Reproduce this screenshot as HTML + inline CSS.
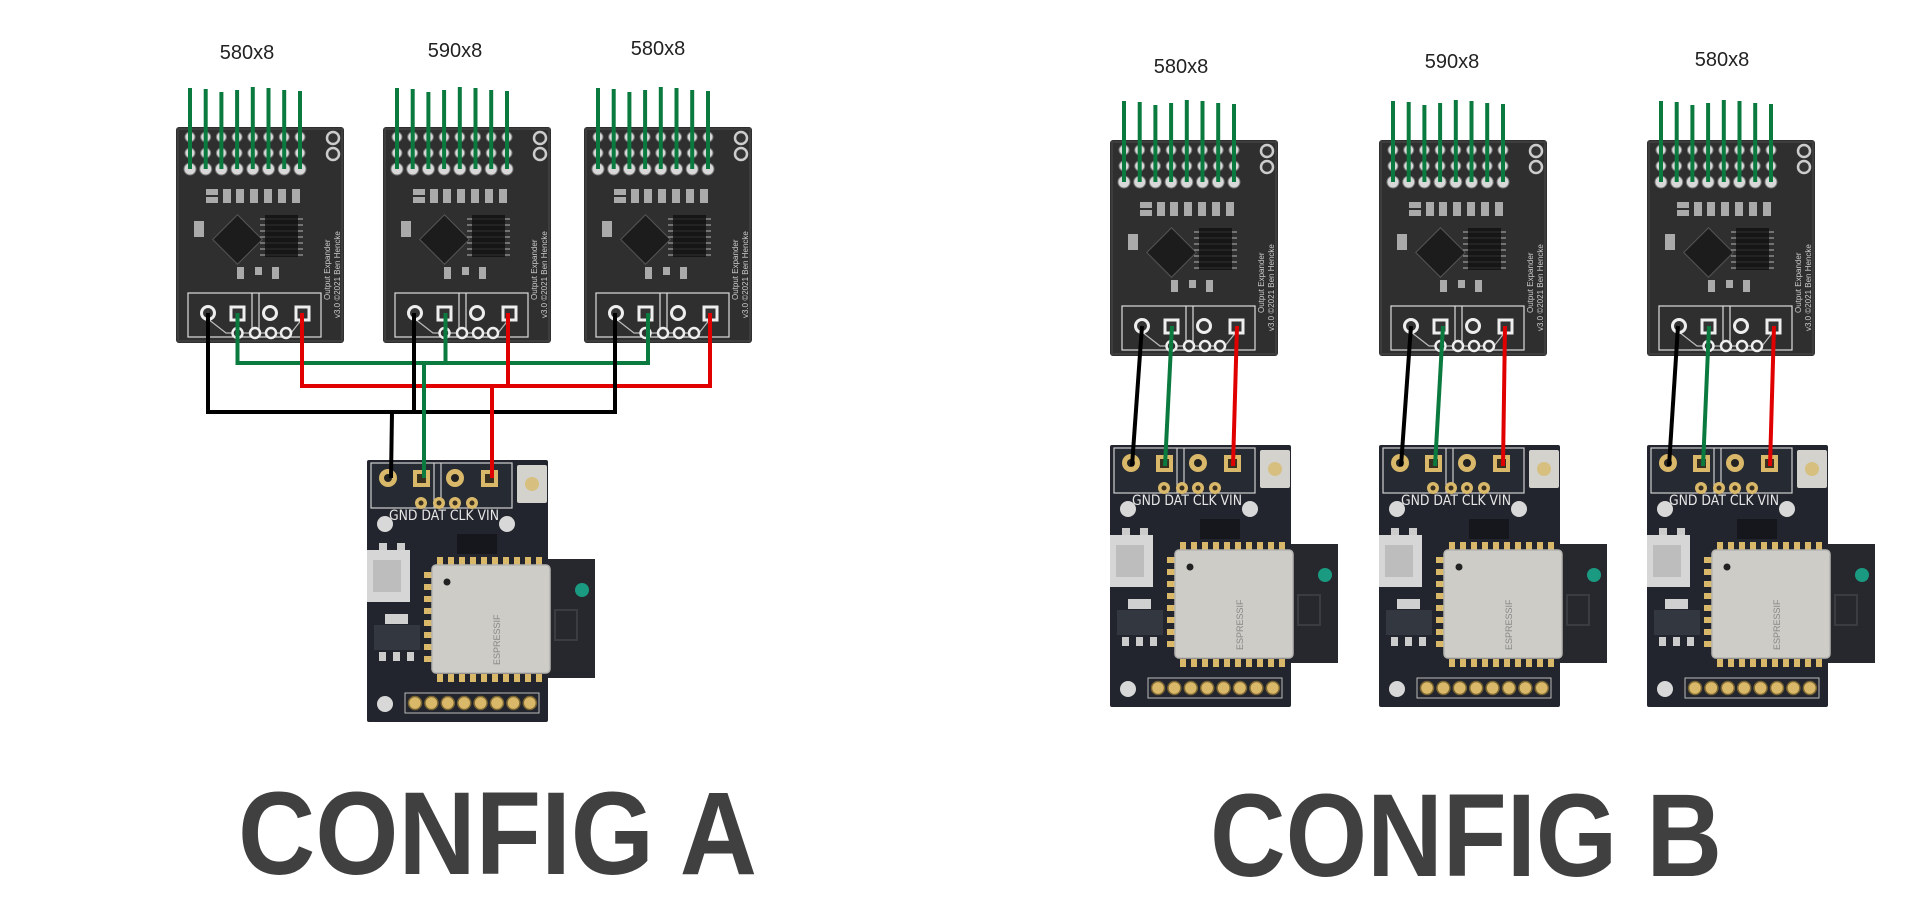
<!DOCTYPE html>
<html><head><meta charset="utf-8"><style>
html,body{margin:0;padding:0;background:#fff;}
svg{display:block;}
</style></head><body>
<svg width="1920" height="923" viewBox="0 0 1920 923" xmlns="http://www.w3.org/2000/svg" font-family="Liberation Sans, sans-serif">
<defs>
<g id="exp">
  <rect x="0" y="0" width="168" height="216" rx="3" fill="#2f2f30"/>
  <rect x="2" y="2" width="164" height="212" fill="none" stroke="#3d3d3e" stroke-width="2"/>
  <g fill="#d8d8d8" stroke="#777" stroke-width="1">
    <circle cx="14" cy="10" r="5"/><circle cx="29.7" cy="10" r="5"/><circle cx="45.4" cy="10" r="5"/><circle cx="61.1" cy="10" r="5"/><circle cx="76.8" cy="10" r="5"/><circle cx="92.5" cy="10" r="5"/><circle cx="108.2" cy="10" r="5"/><circle cx="124" cy="10" r="5"/>
    <circle cx="14" cy="26" r="5"/><circle cx="29.7" cy="26" r="5"/><circle cx="45.4" cy="26" r="5"/><circle cx="61.1" cy="26" r="5"/><circle cx="76.8" cy="26" r="5"/><circle cx="92.5" cy="26" r="5"/><circle cx="108.2" cy="26" r="5"/><circle cx="124" cy="26" r="5"/>
    <circle cx="14" cy="42" r="6"/><circle cx="29.7" cy="42" r="6"/><circle cx="45.4" cy="42" r="6"/><circle cx="61.1" cy="42" r="6"/><circle cx="76.8" cy="42" r="6"/><circle cx="92.5" cy="42" r="6"/><circle cx="108.2" cy="42" r="6"/><circle cx="124" cy="42" r="6"/>
  </g>
  <circle cx="157" cy="11" r="6" fill="#333" stroke="#ccc" stroke-width="2.5"/>
  <circle cx="157" cy="27" r="6" fill="#333" stroke="#ccc" stroke-width="2.5"/>
  <g fill="#aaa">
    <rect x="30" y="62" width="12" height="6"/><rect x="47" y="62" width="8" height="14"/><rect x="60" y="62" width="8" height="14"/><rect x="74" y="62" width="8" height="14"/><rect x="88" y="62" width="8" height="14"/><rect x="102" y="62" width="8" height="14"/><rect x="116" y="62" width="8" height="14"/><rect x="30" y="70" width="12" height="6"/>
    <rect x="18" y="94" width="10" height="16"/><rect x="22" y="168" width="0" height="0"/>
    <rect x="61" y="140" width="7" height="12"/><rect x="96" y="140" width="7" height="12"/><rect x="79" y="140" width="7" height="8"/>
  </g>
  <rect x="44" y="95" width="35" height="35" fill="#1c1c1c" stroke="#555" transform="rotate(45 61.5 112.5)"/>
  <rect x="89" y="88" width="33" height="42" fill="#161616"/>
  <g stroke="#888" stroke-width="1.5">
    <line x1="84" y1="92" x2="127" y2="92"/><line x1="84" y1="98" x2="127" y2="98"/><line x1="84" y1="104" x2="127" y2="104"/><line x1="84" y1="110" x2="127" y2="110"/><line x1="84" y1="116" x2="127" y2="116"/><line x1="84" y1="122" x2="127" y2="122"/><line x1="84" y1="128" x2="127" y2="128"/>
  </g>
  <rect x="89" y="88" width="33" height="42" fill="#161616" opacity="0.85"/>
  <rect x="12" y="166" width="133" height="44" fill="none" stroke="#ddd" stroke-width="1.2"/>
  <line x1="76" y1="166" x2="76" y2="210" stroke="#ddd" stroke-width="1.2"/>
  <line x1="83" y1="166" x2="83" y2="210" stroke="#ddd" stroke-width="1.2"/>
  <polyline points="32,192 50,206 115,206 126,192" fill="none" stroke="#bbb" stroke-width="1.2"/>
  <circle cx="32" cy="186" r="6.5" fill="#333" stroke="#eee" stroke-width="3"/>
  <rect x="55" y="180" width="13" height="13" fill="#333" stroke="#eee" stroke-width="3"/>
  <circle cx="94" cy="186" r="6.5" fill="#333" stroke="#eee" stroke-width="3"/>
  <rect x="120" y="180" width="13" height="13" fill="#333" stroke="#eee" stroke-width="3"/>
  <g fill="#333" stroke="#eee" stroke-width="2.5">
    <circle cx="61.5" cy="206" r="5"/><circle cx="79" cy="206" r="5"/><circle cx="95" cy="206" r="5"/><circle cx="110" cy="206" r="5"/>
  </g>
  <g stroke="#0b7a3f" stroke-width="4">
    <line x1="14" y1="-39" x2="14" y2="42"/><line x1="29.7" y1="-38" x2="29.7" y2="42"/><line x1="45.4" y1="-35" x2="45.4" y2="42"/><line x1="61.1" y1="-37" x2="61.1" y2="42"/><line x1="76.8" y1="-40" x2="76.8" y2="42"/><line x1="92.5" y1="-39" x2="92.5" y2="42"/><line x1="108.2" y1="-37" x2="108.2" y2="42"/><line x1="124" y1="-36" x2="124" y2="42"/>
  </g>
</g>
<g id="esp">
  <rect x="181" y="99" width="47" height="119" fill="#26282d"/>
  <rect x="188" y="150" width="22" height="30" fill="none" stroke="#3a3c42" stroke-width="2"/>
  <circle cx="215" cy="130" r="7" fill="#1a9a80"/>
  <rect x="0" y="0" width="181" height="262" rx="2" fill="#22252d"/>
  <rect x="4" y="3" width="141" height="45" fill="#262a33" stroke="#cfcfcf" stroke-width="1.2"/>
  <line x1="67" y1="3" x2="67" y2="48" stroke="#cfcfcf" stroke-width="1.2"/>
  <line x1="74" y1="3" x2="74" y2="48" stroke="#cfcfcf" stroke-width="1.2"/>
  <circle cx="21" cy="18" r="9" fill="#d9b86a"/><circle cx="21" cy="18" r="4" fill="#222"/>
  <rect x="46" y="10" width="17" height="17" fill="#d9b86a"/><rect x="50" y="14" width="9" height="9" fill="#3a3020"/>
  <circle cx="88" cy="18" r="9" fill="#d9b86a"/><circle cx="88" cy="18" r="4" fill="#222"/>
  <rect x="114" y="10" width="17" height="17" fill="#d9b86a"/><rect x="118" y="14" width="9" height="9" fill="#3a3020"/>
  <g fill="#d9b86a"><circle cx="54" cy="43" r="6"/><circle cx="72" cy="43" r="6"/><circle cx="88" cy="43" r="6"/><circle cx="105" cy="43" r="6"/></g>
  <g fill="#3a3020"><circle cx="54" cy="43" r="2.5"/><circle cx="72" cy="43" r="2.5"/><circle cx="88" cy="43" r="2.5"/><circle cx="105" cy="43" r="2.5"/></g>
  <rect x="150" y="5" width="30" height="38" rx="2" fill="#d4d2cd"/>
  <circle cx="165" cy="24" r="7" fill="#d7bf80"/>
  <circle cx="18" cy="64" r="8" fill="#d8d8d8"/><circle cx="140" cy="64" r="8" fill="#d8d8d8"/><circle cx="18" cy="244" r="8" fill="#d8d8d8"/>
  <rect x="0" y="90" width="43" height="52" fill="#d6d6d6"/>
  <rect x="6" y="100" width="28" height="32" fill="#bdbdbd"/>
  <rect x="12" y="83" width="8" height="7" fill="#ccc"/><rect x="30" y="83" width="8" height="7" fill="#ccc"/>
  <rect x="18" y="154" width="23" height="10" fill="#d0d0d0"/>
  <rect x="7" y="165" width="46" height="25" fill="#333740"/>
  <g fill="#ccc"><rect x="12" y="192" width="7" height="9"/><rect x="26" y="192" width="7" height="9"/><rect x="40" y="192" width="7" height="9"/></g>
  <rect x="90" y="74" width="40" height="20" fill="#15171c"/>
  <g fill="#d9b86a">
    <rect x="70" y="97" width="6" height="8"/><rect x="81" y="97" width="6" height="8"/><rect x="92" y="97" width="6" height="8"/><rect x="103" y="97" width="6" height="8"/><rect x="114" y="97" width="6" height="8"/><rect x="125" y="97" width="6" height="8"/><rect x="136" y="97" width="6" height="8"/><rect x="147" y="97" width="6" height="8"/><rect x="158" y="97" width="6" height="8"/><rect x="169" y="97" width="6" height="8"/>
    <rect x="70" y="214" width="6" height="8"/><rect x="81" y="214" width="6" height="8"/><rect x="92" y="214" width="6" height="8"/><rect x="103" y="214" width="6" height="8"/><rect x="114" y="214" width="6" height="8"/><rect x="125" y="214" width="6" height="8"/><rect x="136" y="214" width="6" height="8"/><rect x="147" y="214" width="6" height="8"/><rect x="158" y="214" width="6" height="8"/><rect x="169" y="214" width="6" height="8"/>
    <rect x="57" y="112" width="8" height="6"/><rect x="57" y="124" width="8" height="6"/><rect x="57" y="136" width="8" height="6"/><rect x="57" y="148" width="8" height="6"/><rect x="57" y="160" width="8" height="6"/><rect x="57" y="172" width="8" height="6"/><rect x="57" y="184" width="8" height="6"/><rect x="57" y="196" width="8" height="6"/>
  </g>
  <rect x="65" y="105" width="118" height="108" rx="4" fill="#cdccc7" stroke="#b5b4b0" stroke-width="1.5"/>
  <circle cx="80" cy="122" r="3.5" fill="#222"/>
  <g fill="#d9b86a" stroke="#7a6530" stroke-width="1.5">
    <circle cx="48" cy="243" r="6.5"/><circle cx="64.4" cy="243" r="6.5"/><circle cx="80.8" cy="243" r="6.5"/><circle cx="97.2" cy="243" r="6.5"/><circle cx="113.6" cy="243" r="6.5"/><circle cx="130" cy="243" r="6.5"/><circle cx="146.4" cy="243" r="6.5"/><circle cx="162.8" cy="243" r="6.5"/>
  </g>
  <rect x="38" y="233" width="134" height="20" fill="none" stroke="#bbb" stroke-width="1"/>
</g>
</defs>

<!-- labels -->
<g font-size="20" fill="#222" text-anchor="middle">
  <text x="247" y="59">580x8</text>
  <text x="455" y="57">590x8</text>
  <text x="658" y="55">580x8</text>
  <text x="1181" y="73">580x8</text>
  <text x="1452" y="68">590x8</text>
  <text x="1722" y="66">580x8</text>
</g>

<!-- Config A boards -->
<use href="#exp" x="176" y="127"/>
<use href="#exp" x="383" y="127"/>
<use href="#exp" x="584" y="127"/>
<use href="#esp" x="367" y="460"/>

<!-- Config B boards -->
<use href="#exp" x="1110" y="140"/>
<use href="#exp" x="1379" y="140"/>
<use href="#exp" x="1647" y="140"/>
<use href="#esp" x="1110" y="445"/>
<use href="#esp" x="1379" y="445"/>
<use href="#esp" x="1647" y="445"/>

<!-- text on boards -->
<g font-size="14" fill="#e6e6e6" font-family="DejaVu Sans, sans-serif">
  <text x="389" y="520" textLength="110" lengthAdjust="spacingAndGlyphs">GND DAT CLK VIN</text>
  <text x="1132" y="505" textLength="110" lengthAdjust="spacingAndGlyphs">GND DAT CLK VIN</text>
  <text x="1401" y="505" textLength="110" lengthAdjust="spacingAndGlyphs">GND DAT CLK VIN</text>
  <text x="1669" y="505" textLength="110" lengthAdjust="spacingAndGlyphs">GND DAT CLK VIN</text>
</g>
<g font-size="8" fill="#ccc">
  <text transform="translate(330,300) rotate(-90)">Output Expander</text>
  <text transform="translate(340,318) rotate(-90)">v3.0 ©2021 Ben Hencke</text>
  <text transform="translate(537,300) rotate(-90)">Output Expander</text>
  <text transform="translate(547,318) rotate(-90)">v3.0 ©2021 Ben Hencke</text>
  <text transform="translate(738,300) rotate(-90)">Output Expander</text>
  <text transform="translate(748,318) rotate(-90)">v3.0 ©2021 Ben Hencke</text>
  <text transform="translate(1264,313) rotate(-90)">Output Expander</text>
  <text transform="translate(1274,331) rotate(-90)">v3.0 ©2021 Ben Hencke</text>
  <text transform="translate(1533,313) rotate(-90)">Output Expander</text>
  <text transform="translate(1543,331) rotate(-90)">v3.0 ©2021 Ben Hencke</text>
  <text transform="translate(1801,313) rotate(-90)">Output Expander</text>
  <text transform="translate(1811,331) rotate(-90)">v3.0 ©2021 Ben Hencke</text>
</g>
<g font-size="9" fill="#888">
  <text transform="translate(500,665) rotate(-90)">ESPRESSIF</text>
  <text transform="translate(1243,650) rotate(-90)">ESPRESSIF</text>
  <text transform="translate(1512,650) rotate(-90)">ESPRESSIF</text>
  <text transform="translate(1780,650) rotate(-90)">ESPRESSIF</text>
</g>

<!-- Config A wires -->
<g fill="none" stroke-width="4" stroke-linejoin="miter">
  <polyline stroke="#0b7a3f" points="237.5,313 237.5,363 648,363 648,313"/>
  <line stroke="#0b7a3f" x1="445.5" y1="313" x2="445.5" y2="363"/>
  <polyline stroke="#e00000" points="302,313 302,386 710,386 710,313"/>
  <line stroke="#e00000" x1="508" y1="313" x2="508" y2="386"/>
  <polyline stroke="#000" points="208,313 208,412 615,412 615,313"/>
  <line stroke="#000" x1="414" y1="313" x2="414" y2="412"/>
  <line stroke="#000" x1="392" y1="412" x2="391" y2="478"/>
  <line stroke="#0b7a3f" x1="424" y1="363" x2="424" y2="478"/>
  <line stroke="#e00000" x1="492" y1="386" x2="492" y2="478"/>
</g>

<!-- Config B wires -->
<g stroke-width="4">
  <line stroke="#000" x1="1142" y1="326" x2="1132" y2="466"/>
  <line stroke="#0b7a3f" x1="1172" y1="326" x2="1165" y2="466"/>
  <line stroke="#e00000" x1="1237" y1="326" x2="1233" y2="466"/>
  <line stroke="#000" x1="1411" y1="326" x2="1401" y2="466"/>
  <line stroke="#0b7a3f" x1="1443" y1="326" x2="1435" y2="466"/>
  <line stroke="#e00000" x1="1505" y1="326" x2="1503" y2="466"/>
  <line stroke="#000" x1="1678" y1="326" x2="1669" y2="466"/>
  <line stroke="#0b7a3f" x1="1709" y1="326" x2="1703" y2="466"/>
  <line stroke="#e00000" x1="1774" y1="326" x2="1770" y2="466"/>
</g>

<!-- Titles -->
<g font-weight="bold" font-size="118" fill="#404040">
  <text x="238" y="874" textLength="519" lengthAdjust="spacingAndGlyphs">CONFIG A</text>
  <text x="1210" y="876" textLength="512" lengthAdjust="spacingAndGlyphs">CONFIG B</text>
</g>
</svg>
</body></html>
